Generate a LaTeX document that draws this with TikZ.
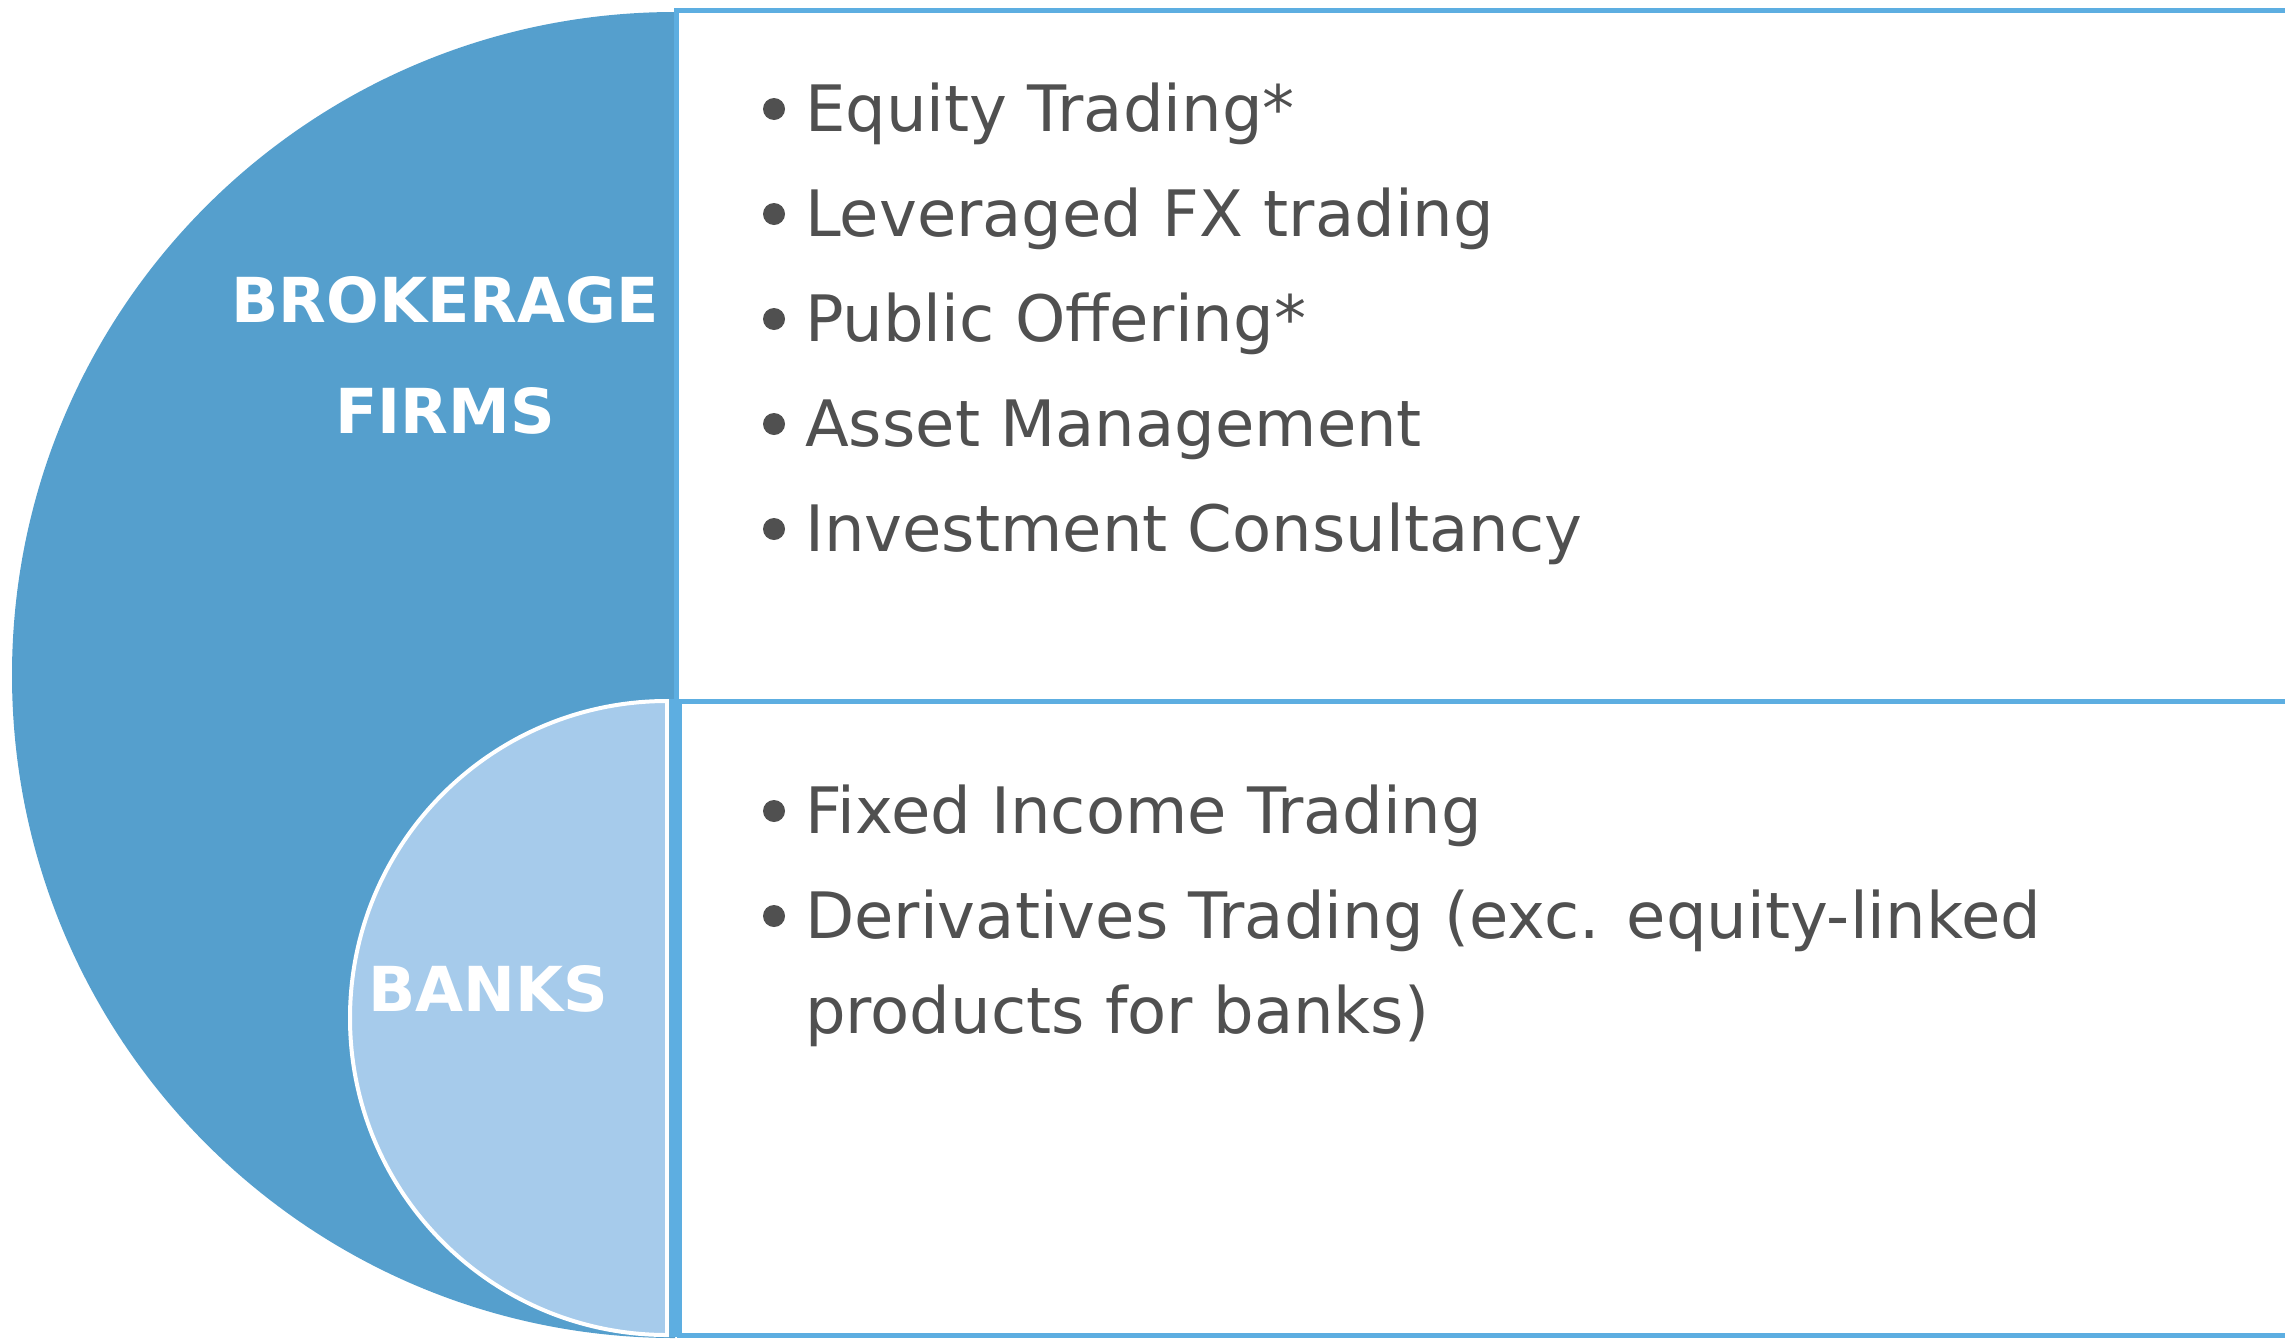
\documentclass[tikz,border=0pt]{standalone}
\usepackage{fontspec}
\setmainfont{DejaVu Sans}
\definecolor{diskdark}{HTML}{559FCD}
\definecolor{disklight}{HTML}{A6CBEB}
\definecolor{rectline}{HTML}{5DAEE1}
\definecolor{itemtext}{HTML}{505050}
\tikzset{
  bigdisk/.style={fill=diskdark},
  smalldisk/.style={fill=disklight, draw=white, line width=4pt},
  panel/.style={draw=rectline, fill=white, line width=5pt},
  panelside/.style={draw=rectline, line width=12pt},
  item/.style={anchor=base west, inner sep=0pt, text=itemtext, font=\fontsize{64}{64}\selectfont},
  dot/.style={fill=itemtext},
  label/.style={anchor=base, inner sep=0pt, text=white, font=\bfseries\fontsize{62}{62}\selectfont}
}
\begin{document}
\begin{tikzpicture}[x=1pt,y=-1pt]
\useasboundingbox (0,0) rectangle (2285,1339);
% big half disk
\fill[bigdisk] (675,12) arc[start angle=270, end angle=90, radius=663] -- cycle;
% panels
\draw[panel] (2300,10) -| (676,701) -- (2300,701);
\draw[panel] (2300,701) -| (679,1335) -- (2300,1335);
\draw[panelside] (676,699) -- (676,1337);
% small half disk
\draw[smalldisk] (667,701) arc[start angle=270, end angle=90, radius=317] -- cycle;
% labels
\node[label] (brok) at (445,322) {BROKERAGE};
\node[label] (firms) at (445,433) {FIRMS};
\node[label] (banks) at (488,1011) {BANKS};
% top items
\foreach \y/\t [count=\i] in {131/{Equity Trading*},236/{Leveraged FX trading},341/{Public Offering*},446/{Asset Management},551/{Investment Consultancy}}{
  \fill[dot] (774,\y-22) circle[radius=11];
  \node[item] (top\i) at (805,\y) {\t};
}
% bottom items
\fill[dot] (774,833-22) circle[radius=11];
\node[item] (fixed) at (805,833) {Fixed Income Trading};
\fill[dot] (774,938-22) circle[radius=11];
\node[item] (deriv) at (805,938) {Derivatives Trading (exc. equity-linked};
\node[item] (prod) at (805,1033) {products for banks)};
\end{tikzpicture}
\end{document}
